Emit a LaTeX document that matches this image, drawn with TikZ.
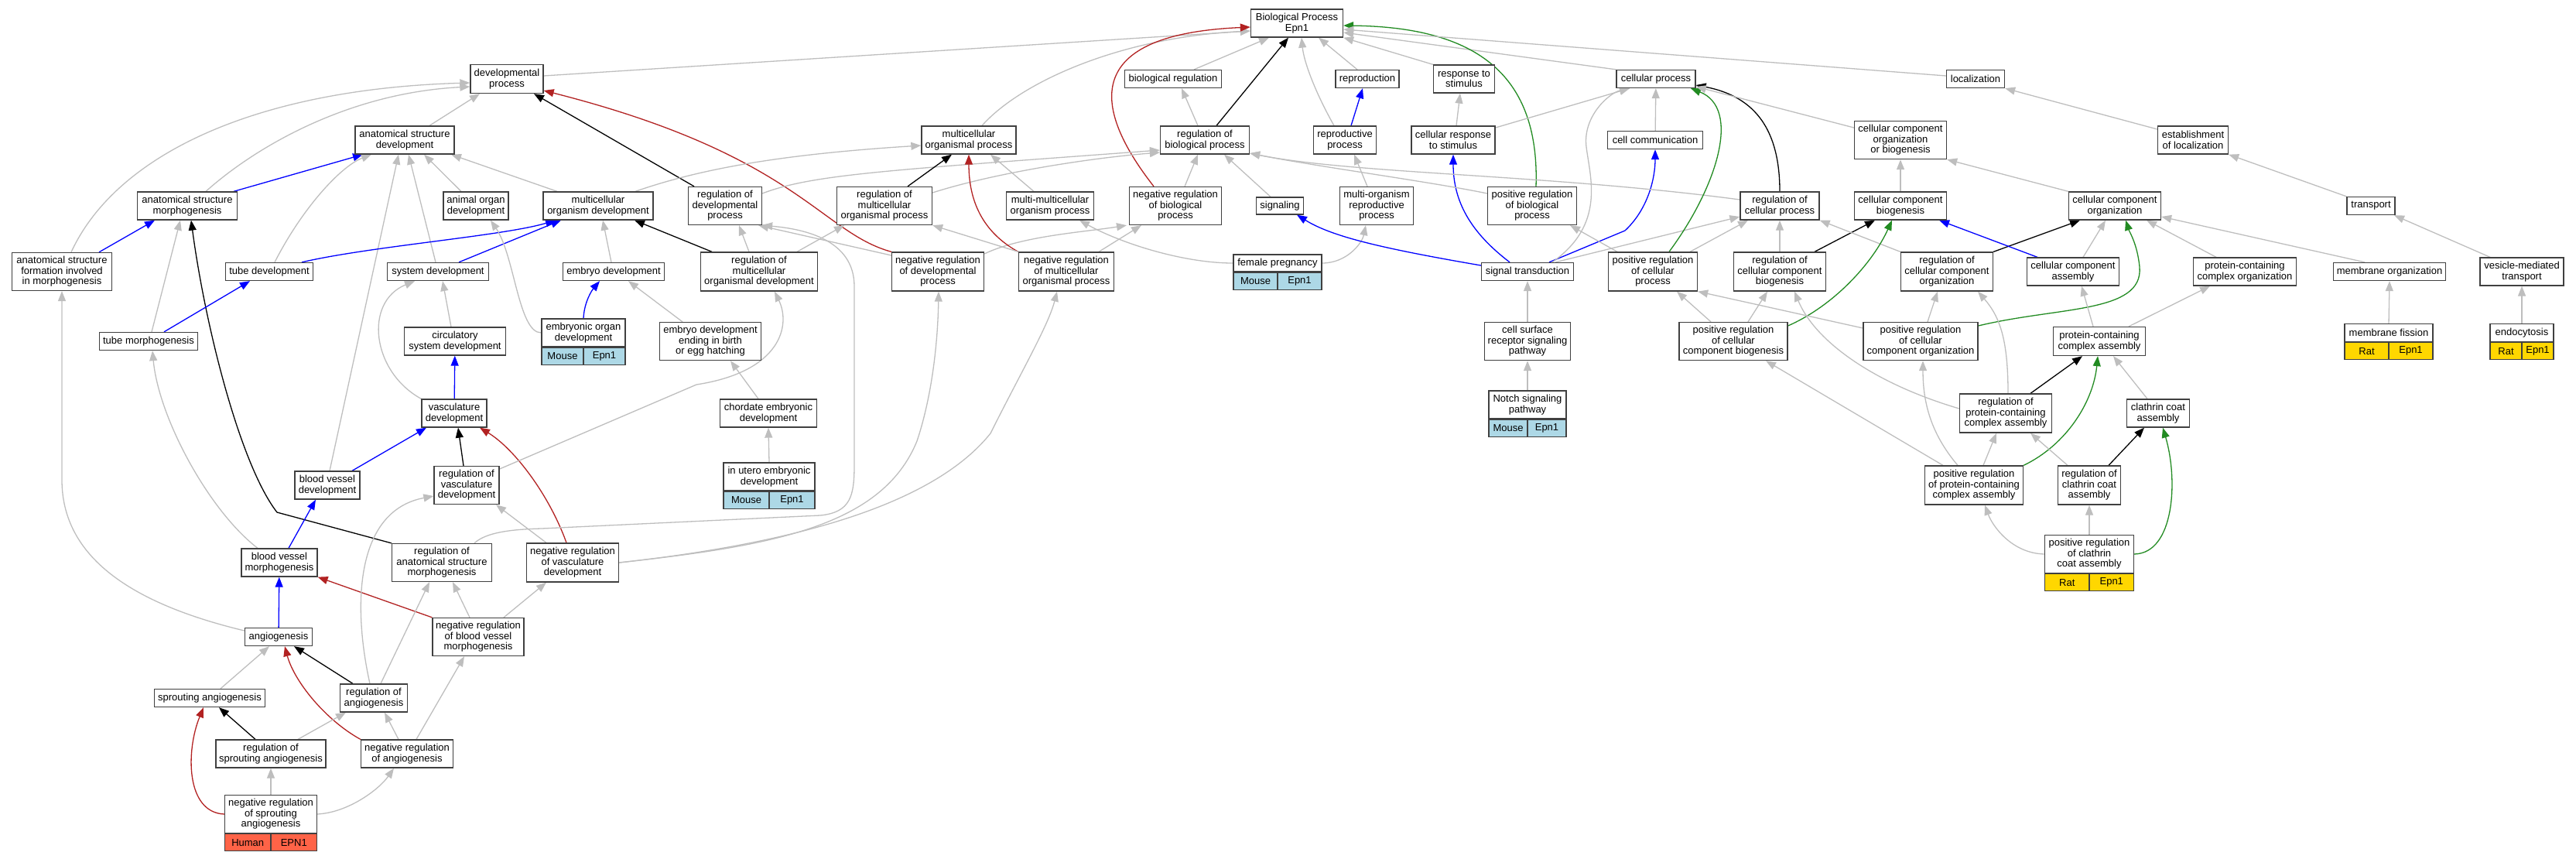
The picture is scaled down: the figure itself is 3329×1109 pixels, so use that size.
\documentclass[tikz,border=0pt]{standalone}
\usepackage{fontspec}
\setmainfont{Liberation Sans}
\usetikzlibrary{arrows.meta, backgrounds}
\definecolor{isagray}{RGB}{190,190,190}
\definecolor{negred}{RGB}{178,34,34}
\definecolor{posgreen}{RGB}{34,139,34}
\definecolor{hsred}{RGB}{255,99,71}
\definecolor{mmblue}{RGB}{173,216,230}
\definecolor{rngold}{RGB}{255,215,0}
\newcommand{\lbl}{\fontsize{13}{13.5}\selectfont}

\begin{document}
\begin{tikzpicture}[x=1pt, y=-1pt,
  term/.style={draw=black!75, line width=1.3pt, fill=white, align=center, inner sep=1pt, font=\lbl},
  sz/.style 2 args={minimum width=#1pt, minimum height=#2pt},
  cell/.style={draw=black!75, line width=1.3pt, inner sep=1pt, font=\lbl, minimum height=22pt},
  ln/.style={line width=1.3pt, -{Triangle[length=13pt, width=10pt]}},
  isa/.style={ln, draw=isagray},
  rg/.style={ln, draw=black},
  nrg/.style={ln, draw=negred},
  prg/.style={ln, draw=posgreen},
  prt/.style={ln, draw=blue}]
  \useasboundingbox (0,0) rectangle (3329,1109);

  \draw (1676,30) node[term, sz={119}{36}] (bp) {Biological Process\\Epn1};
  \draw (655,102) node[term, sz={94}{37}] (devp) {developmental\\process};
  \draw (1516,102) node[term, sz={125}{23}] (bioreg) {biological regulation};
  \draw (1767,102) node[term, sz={82}{23}] (repro) {reproduction};
  \draw (1892,102) node[term, sz={79}{36}] (resp) {response to\\stimulus};
  \draw (2140,102) node[term, sz={102}{23}] (cellp) {cellular process};
  \draw (2553,102) node[term, sz={75}{23}] (loc) {localization};

  \draw (523,181) node[term, sz={128}{36}] (asd) {anatomical structure\\development};
  \draw (1252,181) node[term, sz={122}{36}] (mop) {multicellular\\organismal process};
  \draw (1557,181) node[term, sz={115}{36}] (regbp) {regulation of\\biological process};
  \draw (1738,181) node[term, sz={81}{36}] (reprop) {reproductive\\process};
  \draw (1878,181) node[term, sz={108}{36}] (cresp) {cellular response\\to stimulus};
  \draw (2139,181) node[term, sz={123}{23}] (ccomm) {cell communication};
  \draw (2456,181) node[term, sz={119}{49}] (ccob) {cellular component\\organization\\or biogenesis};
  \draw (2834,181) node[term, sz={91}{36}] (estloc) {establishment\\of localization};

  \draw (242,266) node[term, sz={129}{36}] (asm) {anatomical structure\\morphogenesis};
  \draw (615,266) node[term, sz={84}{36}] (aod) {animal organ\\development};
  \draw (773,266) node[term, sz={142}{36}] (mod) {multicellular\\organism development};
  \draw (937,266) node[term, sz={95}{49}] (regdp) {regulation of\\developmental\\process};
  \draw (1143,266) node[term, sz={123}{49}] (regmop) {regulation of\\multicellular\\organismal process};
  \draw (1357,266) node[term, sz={113}{36}] (mmop) {multi-multicellular\\organism process};
  \draw (1519,266) node[term, sz={119}{49}] (nregbp) {negative regulation\\of biological\\process};
  \draw (1654,266) node[term, sz={61}{22}] (signl) {signaling};
  \draw (1779,266) node[term, sz={95}{49}] (morp) {multi-organism\\reproductive\\process};
  \draw (1980,266) node[term, sz={115}{49}] (pregbp) {positive regulation\\of biological\\process};
  \draw (2300,266) node[term, sz={102}{36}] (regcp) {regulation of\\cellular process};
  \draw (2456,266) node[term, sz={119}{36}] (ccbio) {cellular component\\biogenesis};
  \draw (2733,266) node[term, sz={119}{36}] (ccorg) {cellular component\\organization};
  \draw (3064,266) node[term, sz={62}{23}] (trans) {transport};

  \draw (80,351) node[term, sz={129}{49}] (asfim) {anatomical structure\\formation involved\\in morphogenesis};
  \draw (348,351) node[term, sz={113}{23}] (tubed) {tube development};
  \draw (566,351) node[term, sz={131}{23}] (sysd) {system development};
  \draw (793,351) node[term, sz={131}{23}] (embd) {embryo development};
  \draw (981,351) node[term, sz={151}{50}] (regmod) {regulation of\\multicellular\\organismal development};
  \draw (1212,351) node[term, sz={119}{50}] (nregdp) {negative regulation\\of developmental\\process};
  \draw (1378,351) node[term, sz={123}{50}] (nregmop) {negative regulation\\of multicellular\\organismal process};
  \draw (1651,340) node[term, sz={114}{22}] (fpreg) {female pregnancy};
  \draw (1974,351) node[term, sz={119}{23}] (sigtr) {signal transduction};
  \draw (2136,351) node[term, sz={115}{50}] (pregcp) {positive regulation\\of cellular\\process};
  \draw (2300,351) node[term, sz={119}{50}] (regccb) {regulation of\\cellular component\\biogenesis};
  \draw (2516,351) node[term, sz={119}{50}] (regcco) {regulation of\\cellular component\\organization};
  \draw (2679,351) node[term, sz={119}{36}] (cca) {cellular component\\assembly};
  \draw (2901,351) node[term, sz={133}{36}] (pcco) {protein-containing\\complex organization};
  \draw (3088,351) node[term, sz={145}{23}] (memorg) {membrane organization};
  \draw (3259,351) node[term, sz={108}{36}] (vmt) {vesicle-mediated\\transport};

  \draw (192,441) node[term, sz={127}{23}] (tubem) {tube morphogenesis};
  \draw (588,441) node[term, sz={131}{36}] (csd) {circulatory\\system development};
  \draw (754,430) node[term, sz={108}{36}] (emborg) {embryonic organ\\development};
  \draw (918,441) node[term, sz={131}{49}] (embbirth) {embryo development\\ending in birth\\or egg hatching};
  \draw (1974,441) node[term, sz={111}{49}] (csrsp) {cell surface\\receptor signaling\\pathway};
  \draw (2240,441) node[term, sz={140}{49}] (pregccb) {positive regulation\\of cellular\\component biogenesis};
  \draw (2482,441) node[term, sz={148}{49}] (pregcco) {positive regulation\\of cellular\\component organization};
  \draw (2713,441) node[term, sz={119}{37}] (pcca) {protein-containing\\complex assembly};
  \draw (3087,430) node[term, sz={114}{23}] (memfis) {membrane fission};
  \draw (3259,430) node[term, sz={82}{23}] (endo) {endocytosis};

  \draw (587,534) node[term, sz={84}{36}] (vascd) {vasculature\\development};
  \draw (993,534) node[term, sz={125}{36}] (chord) {chordate embryonic\\development};
  \draw (1974,523) node[term, sz={100}{36}] (notch) {Notch signaling\\pathway};
  \draw (2592,534) node[term, sz={119}{50}] (regpcca) {regulation of\\protein-containing\\complex assembly};
  \draw (2789,534) node[term, sz={81}{36}] (clath) {clathrin coat\\assembly};

  \draw (423,627) node[term, sz={84}{36}] (bvd) {blood vessel\\development};
  \draw (603,627) node[term, sz={84}{49}] (regvd) {regulation of\\vasculature\\development};
  \draw (994,616) node[term, sz={118}{36}] (utero) {in utero embryonic\\development};
  \draw (2551,627) node[term, sz={127}{50}] (pregpcca) {positive regulation\\of protein-containing\\complex assembly};
  \draw (2700,627) node[term, sz={81}{50}] (regclath) {regulation of\\clathrin coat\\assembly};

  \draw (361,727) node[term, sz={98}{36}] (bvm) {blood vessel\\morphogenesis};
  \draw (571,727) node[term, sz={129}{49}] (rasm) {regulation of\\anatomical structure\\morphogenesis};
  \draw (740,727) node[term, sz={119}{50}] (nrvd) {negative regulation\\of vasculature\\development};
  \draw (2700,716) node[term, sz={115}{49}] (pregclath) {positive regulation\\of clathrin\\coat assembly};

  \draw (360,823) node[term, sz={87}{23}] (angio) {angiogenesis};
  \draw (618,823) node[term, sz={118}{49}] (nrbvm) {negative regulation\\of blood vessel\\morphogenesis};
  \draw (271,902) node[term, sz={143}{23}] (sprout) {sprouting angiogenesis};
  \draw (483,902) node[term, sz={87}{36}] (regangio) {regulation of\\angiogenesis};
  \draw (350,974) node[term, sz={142}{36}] (regsprout) {regulation of\\sprouting angiogenesis};
  \draw (526,974) node[term, sz={119}{36}] (nregangio) {negative regulation\\of angiogenesis};
  \draw (350,1052) node[term, sz={119}{49}] (nregsprout) {negative regulation\\of sprouting\\angiogenesis};

  % species rows
  \draw (nregsprout.south west) node[cell, anchor=north west, minimum width=59.5pt, fill=hsred] (nsh) {Human};
  \draw (nregsprout.south east) node[cell, anchor=north east, minimum width=59.5pt, fill=hsred] (nse) {EPN1};
  \draw (emborg.south west) node[cell, anchor=north west, minimum width=54pt, fill=mmblue] (eom) {Mouse};
  \draw (emborg.south east) node[cell, anchor=north east, minimum width=54pt, fill=mmblue] (eoe) {Epn1};
  \draw (fpreg.south west) node[cell, anchor=north west, minimum width=57pt, fill=mmblue] (fpm) {Mouse};
  \draw (fpreg.south east) node[cell, anchor=north east, minimum width=57pt, fill=mmblue] (fpe) {Epn1};
  \draw (notch.south west) node[cell, anchor=north west, minimum width=50pt, fill=mmblue] (ntm) {Mouse};
  \draw (notch.south east) node[cell, anchor=north east, minimum width=50pt, fill=mmblue] (nte) {Epn1};
  \draw (utero.south west) node[cell, anchor=north west, minimum width=59pt, fill=mmblue] (utm) {Mouse};
  \draw (utero.south east) node[cell, anchor=north east, minimum width=59pt, fill=mmblue] (ute) {Epn1};
  \draw (memfis.south west) node[cell, anchor=north west, minimum width=57pt, fill=rngold] (mfr) {Rat};
  \draw (memfis.south east) node[cell, anchor=north east, minimum width=57pt, fill=rngold] (mfe) {Epn1};
  \draw (endo.south west) node[cell, anchor=north west, minimum width=41pt, fill=rngold] (enr) {Rat};
  \draw (endo.south east) node[cell, anchor=north east, minimum width=41pt, fill=rngold] (ene) {Epn1};
  \draw (pregclath.south west) node[cell, anchor=north west, minimum width=57.5pt, fill=rngold] (pcr) {Rat};
  \draw (pregclath.south east) node[cell, anchor=north east, minimum width=57.5pt, fill=rngold] (pce) {Epn1};

  \begin{scope}[on background layer]
  % into the root
  \draw[isa] ([yshift=4pt]devp.east) -- ([yshift=-10pt]bp.west);
  \draw[isa] ([xshift=17pt]mop.north) .. controls (1320,105) and (1450,48) .. ([yshift=-10pt]bp.west);
  \draw[nrg] ([xshift=-28pt]nregbp.north) .. controls (1420,150) and (1385,45) .. ([yshift=-5pt]bp.west);
  \draw[isa] ([xshift=27pt]bioreg.north) -- ([xshift=-36pt]bp.south);
  \draw[rg] ([xshift=15pt]regbp.north) -- ([xshift=-11pt]bp.south);
  \draw[isa] ([xshift=-14pt]reprop.north) .. controls (1700,120) and (1685,80) .. ([xshift=6pt]bp.south);
  \draw[isa] ([xshift=-13pt]repro.north) -- ([xshift=28pt]bp.south);
  \draw[isa] (resp.north west) -- (bp.south east);
  \draw[isa] (cellp.north west) -- ([yshift=-12pt]bp.east);
  \draw[prg] ([xshift=5pt]pregbp.north) .. controls (1990,90) and (1900,35) .. ([yshift=-3pt]bp.east);
  \draw[isa] ([yshift=4pt]loc.west) -- ([yshift=-8pt]bp.east);

  % development side
  \draw[isa] ([xshift=12pt]asfim.north) .. controls (150,200) and (330,115) .. ([yshift=-5pt]devp.west);
  \draw[isa] ([xshift=24pt]asm.north) .. controls (330,190) and (450,120) .. ([yshift=-10pt]devp.west);
  \draw[isa] ([xshift=32pt]asd.north) -- ([xshift=-35pt]devp.south);
  \draw[rg] ([xshift=-40pt]regdp.north) -- ([xshift=35pt]devp.south);
  \draw[nrg] (nregdp.north west) .. controls (1060,300) and (1030,200) .. ([yshift=-15pt]devp.east);
  \draw[prt] ([xshift=60pt]asm.north) -- ([xshift=-54pt]asd.south);
  \draw[isa] ([xshift=7pt]tubed.north) .. controls (390,270) and (440,215) .. ([xshift=-43pt]asd.south);
  \draw[isa] ([xshift=3pt]bvd.north) -- ([xshift=-8pt]asd.south);
  \draw[isa] ([xshift=-3pt]sysd.north) -- ([xshift=5pt]asd.south);
  \draw[isa] ([xshift=-19pt]aod.north) -- ([xshift=25pt]asd.south);
  \draw[isa] ([xshift=-53pt]mod.north) -- ([xshift=60pt]asd.south);
  \draw[prt] ([xshift=48pt]asfim.north) -- ([xshift=-42pt]asm.south);
  \draw[isa] ([xshift=4pt]tubem.north) -- ([xshift=-9pt]asm.south);
  \draw[rg] (rasm.north west) -- (358,662) .. controls (310,600) and (265,420) .. ([xshift=5pt]asm.south);
  \draw[isa] ([yshift=8pt]angio.west) .. controls (170,780) and (80,720) .. (80,620) -- (asfim.south);
  \draw[prt] ([xshift=20pt]tubem.north) -- ([xshift=-25pt]tubed.south);
  \draw[prt] ([xshift=42pt]tubed.north) .. controls (480,318) and (650,305) .. ([xshift=-55pt]mod.south);
  \draw[prt] ([xshift=27pt]sysd.north) -- ([xshift=-48pt]mod.south);
  \draw[isa] ([xshift=-5pt]csd.north) -- ([xshift=6pt]sysd.south);
  \draw[isa] (vascd.north west) .. controls (480,480) and (470,390) .. ([xshift=-30pt]sysd.south);
  \draw[prt] (vascd) -- (csd);
  \draw[prt] ([xshift=32pt]bvd.north) -- ([xshift=-36pt]vascd.south);
  \draw[rg] ([xshift=-4pt]regvd.north) -- ([xshift=5pt]vascd.south);
  \draw[nrg] ([xshift=-8pt]nrvd.north) .. controls (710,640) and (665,580) .. ([xshift=33pt]vascd.south);
  \draw[prt] ([xshift=12pt]bvm.north) -- ([xshift=-15pt]bvd.south);
  \draw[prt] (angio) -- (bvm);
  \draw[nrg] (nrbvm.north west) -- (bvm.south east);
  \draw[isa] ([xshift=-28pt]bvm.north) .. controls (270,660) and (205,540) .. ([xshift=5pt]tubem.south);
  \draw[isa] ([xshift=42pt]rasm.north) .. controls (628,688) and (660,684) .. (700,683) -- (1060,666)
    .. controls (1100,662) and (1104,640) .. (1104,600) -- (1104,370) .. controls (1104,310) and (1040,296) .. (regdp.south east);
  \draw[isa] ([xshift=-11pt]nrbvm.north) -- ([xshift=14pt]rasm.south);
  \draw[isa] ([xshift=9pt]regangio.north) -- ([xshift=-16pt]rasm.south);
  \draw[isa] ([xshift=-5pt]regangio.north) .. controls (455,780) and (460,660) .. ([yshift=-14pt]regvd.west);
  \draw[isa] ([xshift=-34pt]nrvd.north) -- ([xshift=38pt]regvd.south);
  \draw[isa] ([yshift=21pt]regvd.east) -- (900,497) .. controls (1010,480) and (1022,420) .. ([xshift=20pt]regmod.south);
  \draw[isa] (nrvd.east) .. controls (1000,705) and (1140,680) .. (1185,570) .. controls (1205,510) and (1212,440) .. ([xshift=1pt]nregdp.south);
  \draw[isa] (nrvd.east) .. controls (1000,705) and (1200,660) .. (1280,560) .. controls (1320,480) and (1355,420) .. ([xshift=-12pt]nregmop.south);
  \draw[isa] ([xshift=33pt]nrbvm.north) -- ([xshift=-34pt]nrvd.south);

  % angiogenesis
  \draw[isa] ([xshift=14pt]sprout.north) -- ([xshift=-12pt]angio.south);
  \draw[rg] ([xshift=-27pt]regangio.north) -- ([xshift=20pt]angio.south);
  \draw[nrg] (nregangio.north west) .. controls (420,930) and (380,880) .. ([xshift=8pt]angio.south);
  \draw[rg] ([xshift=-20pt]regsprout.north) -- ([xshift=12pt]sprout.south);
  \draw[isa] ([xshift=35pt]regsprout.north) -- ([xshift=-36pt]regangio.south);
  \draw[isa] ([xshift=-11pt]nregangio.north) -- ([xshift=14pt]regangio.south);
  \draw[isa] ([xshift=12pt]nregangio.north) -- ([xshift=-18pt]nrbvm.south);
  \draw[nrg] (nregsprout.west) .. controls (240,1050) and (240,970) .. ([xshift=-8pt]sprout.south);
  \draw[isa] (nregsprout.north) -- (regsprout.south);
  \draw[isa] (nregsprout.east) .. controls (450,1050) and (490,1020) .. ([xshift=-17pt]nregangio.south);

  % embryo and multicellular
  \draw[isa] (emborg.west) .. controls (670,430) and (665,330) .. ([xshift=19pt]aod.south);
  \draw[prt] (emborg.north) .. controls (755,390) and (765,375) .. ([xshift=-18pt]embd.south);
  \draw[isa] ([xshift=-3pt]embd.north) -- ([xshift=6pt]mod.south);
  \draw[isa] ([xshift=-36pt]embbirth.north) -- ([xshift=19pt]embd.south);
  \draw[isa] ([xshift=-13pt]chord.north) -- ([xshift=26pt]embbirth.south);
  \draw[isa] (utero.north) -- (chord.south);
  \draw[rg] ([xshift=-61pt]regmod.north) -- ([xshift=47pt]mod.south);
  \draw[isa] ([xshift=-13pt]regmod.north) -- ([xshift=18pt]regdp.south);
  \draw[isa] ([xshift=49pt]regmod.north) -- ([xshift=-52pt]regmop.south);
  \draw[isa] ([xshift=48pt]mod.north) .. controls (900,220) and (1000,200) .. ([yshift=-7pt]mop.west);
  \draw[isa] ([yshift=16pt]regdp.east) .. controls (1050,225) and (1150,220) .. ([yshift=-13pt]regbp.west);
  \draw[isa] ([yshift=17pt]regmop.east) .. controls (1280,225) and (1400,205) .. ([yshift=-16pt]regbp.west);
  \draw[rg] ([xshift=30pt]regmop.north) -- ([xshift=-22pt]mop.south);
  \draw[isa] ([yshift=21pt]nregdp.west) -- ([xshift=-5pt]regdp.south east);
  \draw[isa] ([yshift=23pt]nregdp.east) .. controls (1320,305) and (1400,300) .. ([xshift=-63pt]nregbp.south);
  \draw[nrg] (nregmop.north west) .. controls (1270,300) and (1252,260) .. (mop.south);
  \draw[isa] (nregmop.north west) -- (regmop.south east);
  \draw[isa] ([xshift=42pt]nregmop.north) -- ([xshift=-44pt]nregbp.south);
  \draw[isa] ([xshift=-21pt]mmop.north) -- ([xshift=28pt]mop.south);
  \draw[isa] (fpreg.west) .. controls (1530,340) and (1450,315) .. ([xshift=38pt]mmop.south);
  \draw[isa] (fpreg.east) .. controls (1740,340) and (1760,315) .. ([xshift=-14pt]morp.south);
  \draw[isa] ([xshift=12pt]nregbp.north) -- ([xshift=-9pt]regbp.south);
  \draw[isa] ([xshift=-9pt]regbp.north) -- ([xshift=11pt]bioreg.south);
  \draw[isa] ([xshift=-12pt]signl.north) -- ([xshift=25pt]regbp.south);

  % signalling and cellular process
  \draw[prt] ([yshift=8pt]sigtr.west) .. controls (1780,320) and (1720,305) .. ([xshift=22pt]signl.south);
  \draw[prt] ([xshift=-23pt]sigtr.north) .. controls (1900,300) and (1878,260) .. (cresp.south);
  \draw[prt] ([xshift=28pt]sigtr.north) -- (2100,298) .. controls (2130,270) and (2139,230) .. (ccomm.south);
  \draw[isa] ([xshift=32pt]sigtr.north) .. controls (2075,290) and (2055,230) .. (2050,190)
    .. controls (2045,150) and (2080,120) .. ([xshift=-34pt]cellp.south);
  \draw[isa] ([xshift=36pt]sigtr.north) -- ([yshift=-14pt]regcp.west);
  \draw[isa] (csrsp.north) -- (sigtr.south);
  \draw[isa] (notch.north) -- (csrsp.south);
  \draw[isa] ([xshift=4pt]cresp.north) -- ([xshift=-5pt]resp.south);
  \draw[isa] ([yshift=16pt]cresp.east) -- ([xshift=-34pt]cellp.south);
  \draw[isa] (ccomm) -- (cellp);
  \draw[prt] ([xshift=8pt]reprop.north) -- ([xshift=-6pt]repro.south);
  \draw[isa] ([xshift=-12pt]morp.north) -- ([xshift=12pt]reprop.south);
  \draw[isa] ([yshift=16pt]pregbp.west) .. controls (1850,235) and (1700,215) .. ([yshift=-17pt]regbp.east);
  \draw[isa] ([yshift=8pt]regcp.west) .. controls (2000,225) and (1750,225) .. ([yshift=-17pt]regbp.east);
  \draw[isa] ([xshift=-46pt]pregcp.north) -- ([xshift=49pt]pregbp.south);
  \draw[isa] ([xshift=48pt]pregcp.north) -- ([xshift=-41pt]regcp.south);
  \draw[prg] ([xshift=21pt]pregcp.north) .. controls (2220,240) and (2250,140) .. ([xshift=45pt]cellp.south);
  \draw[rg] (regcp.north) .. controls (2300,170) and (2270,125) .. ([yshift=-8pt]cellp.east);
  \draw[isa] ([yshift=16pt]ccob.west) -- ([yshift=-10pt]cellp.east);

  % cellular component
  \draw[isa] (regccb.north) -- (regcp.south);
  \draw[rg] ([xshift=45pt]regccb.north) -- ([xshift=-33pt]ccbio.south);
  \draw[isa] (regcco.north west) -- (regcp.south east);
  \draw[rg] (regcco.north east) -- ([xshift=-45pt]ccorg.south);
  \draw[prt] ([xshift=-46pt]cca.north) -- ([xshift=50pt]ccbio.south);
  \draw[isa] ([xshift=13pt]cca.north) -- ([xshift=-12pt]ccorg.south);
  \draw[isa] (ccbio) -- (ccob);
  \draw[isa] (ccorg.north west) -- (ccob.south east);
  \draw[isa] ([xshift=19pt]pregccb.north) -- ([xshift=-16pt]regccb.south);
  \draw[isa] ([xshift=-29pt]pregccb.north) -- ([xshift=31pt]pregcp.south);
  \draw[prg] ([yshift=20pt]pregccb.east) .. controls (2370,395) and (2420,340) .. ([xshift=-11pt]ccbio.south);
  \draw[isa] ([xshift=9pt]pregcco.north) -- ([xshift=-12pt]regcco.south);
  \draw[isa] ([yshift=17pt]pregcco.west) -- (pregcp.south east);
  \draw[prg] ([yshift=20pt]pregcco.east) .. controls (2660,396) and (2770,405) .. (2765,345)
    .. controls (2762,315) and (2752,300) .. ([xshift=14pt]ccorg.south);
  \draw[isa] ([xshift=-8pt]pcca.north) -- ([xshift=11pt]cca.south);
  \draw[isa] ([xshift=38pt]pcca.north) -- ([xshift=-45pt]pcco.south);
  \draw[isa] ([xshift=-37pt]pcco.north) -- ([xshift=41pt]ccorg.south);
  \draw[isa] ([xshift=-32pt]memorg.north) -- ([yshift=-14pt]ccorg.east);
  \draw[isa] (memfis.north) -- (memorg.south);
  \draw[isa] (endo.north) -- (vmt.south);
  \draw[isa] ([xshift=-41pt]vmt.north) -- ([xshift=30pt]trans.south);
  \draw[isa] (trans.north west) -- (estloc.south east);
  \draw[isa] ([yshift=14pt]estloc.west) -- (loc.south east);

  % clathrin coat
  \draw[rg] ([xshift=32pt]regpcca.north) -- ([xshift=-22pt]pcca.south);
  \draw[isa] ([xshift=3pt]regpcca.north) .. controls (2595,440) and (2585,410) .. ([xshift=40pt]regcco.south);
  \draw[isa] ([yshift=6pt]regpcca.west) .. controls (2420,495) and (2345,440) .. ([xshift=19pt]regccb.south);
  \draw[isa] ([xshift=12pt]pregpcca.north) -- ([xshift=-12pt]regpcca.south);
  \draw[prg] (pregpcca.north east) .. controls (2670,575) and (2705,520) .. ([xshift=-2pt]pcca.south);
  \draw[isa] ([xshift=-21pt]pregpcca.north) .. controls (2495,560) and (2485,520) .. ([xshift=3pt]pregcco.south);
  \draw[isa] ([xshift=-40pt]pregpcca.north) -- ([xshift=42pt]pregccb.south);
  \draw[isa] ([xshift=-28pt]regclath.north) -- ([xshift=32pt]regpcca.south);
  \draw[rg] ([xshift=25pt]regclath.north) -- ([xshift=-18pt]clath.south);
  \draw[isa] ([xshift=-14pt]clath.north) -- ([xshift=18pt]pcca.south);
  \draw[isa] (pregclath.north) -- (regclath.south);
  \draw[isa] (pregclath.west) .. controls (2600,715) and (2575,680) .. ([xshift=14pt]pregpcca.south);
  \draw[prg] (pregclath.east) .. controls (2810,715) and (2815,620) .. ([xshift=6pt]clath.south);
  \end{scope}
\end{tikzpicture}
\end{document}
